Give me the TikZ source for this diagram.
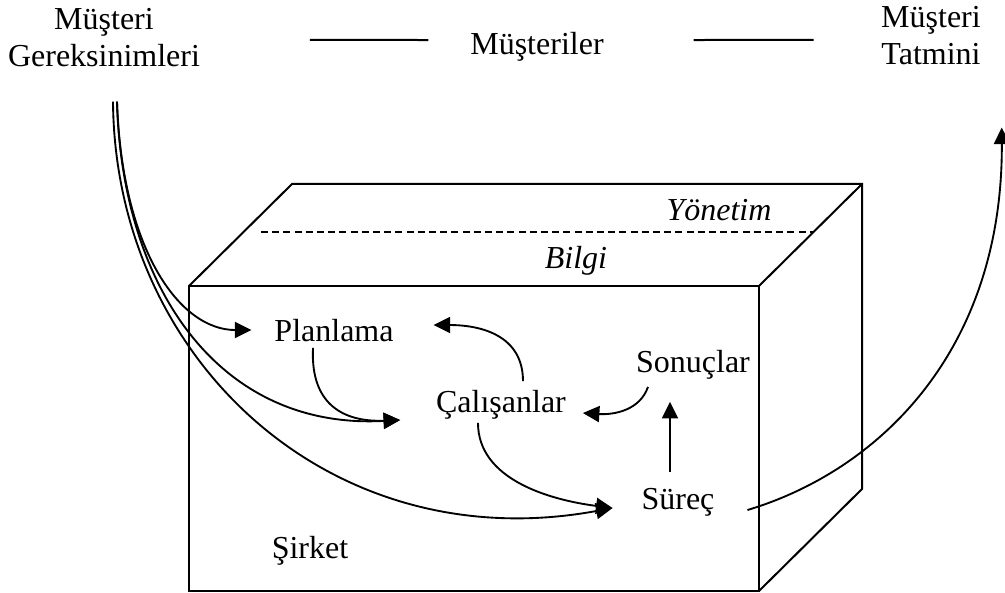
\documentclass[tikz,border=0pt]{standalone}
\usepackage{fontspec}
\setmainfont{Liberation Serif}
\usetikzlibrary{arrows.meta,calc}

\begin{document}
\begin{tikzpicture}[
    x=0.375pt, y=-0.375pt,
    lbl/.style={font=\fontsize{12}{14}\selectfont, inner sep=0pt, outer sep=0pt,
                text height=8.2pt, text depth=2.6pt, anchor=base},
    titolo/.style={font=\fontsize{12}{13.9}\selectfont, inner sep=0pt, outer sep=0pt,
                align=center, anchor=north},
    scatola/.style={line width=0.75pt},
    freccia/.style={line width=0.7pt, -{Triangle[length=6.2pt,width=6pt]}}
  ]
  \useasboundingbox (0,0) rectangle (1005,593);

  % Scatola
  \draw[scatola] (189,286) rectangle (759,591);
  \draw[scatola] (189,286) -- (292,184) -- (862,184) -- (862,489) -- (759,591);
  \draw[scatola] (759,286) -- (862,184);
  \draw[dash pattern=on 2.6pt off 1.6pt, line width=0.6pt] (261,232) -- (813,232);

  % Etichette
  \node[titolo] (mg) at (104,8) {Müşteri\\Gereksinimleri};
  \node[lbl] (mus) at (537,55) {Müşteriler};
  \node[titolo] (mt) at (931,6) {Müşteri\\Tatmini};
  \node[lbl, font=\fontsize{12}{14}\selectfont\itshape] (yon) at (719,221) {Yönetim};
  \node[lbl, font=\fontsize{12}{14}\selectfont\itshape] (bilgi) at (576,269) {Bilgi};
  \node[lbl] (plan) at (334,342) {Planlama};
  \node[lbl] (cal) at (501,413) {Çalışanlar};
  \node[lbl] (sonuc) at (693,373) {Sonuçlar};
  \node[lbl] (sure) at (678,510) {Süreç};
  \node[lbl] (sirket) at (310,559) {Şirket};

  % Linee in alto
  \draw[line width=0.75pt] ($(mg.east)+(110,2.5)$) -- ($(mus.west)+(-42,-7.5)$);
  \draw[line width=0.75pt] ($(mus.east)+(90,-7.5)$) -- ($(mt.west)+(-67.5,4.5)$);

  % Frecce
  \draw[freccia] ($(mg.south)+(13,35)$) .. controls +(5,148) and +(-72,0) .. ($(plan.west)+(-23,-4.5)$);
  \draw[freccia] ($(mg.south)+(13,35)$) .. controls +(5,188) and +(-180,10) .. ($(cal.west)+(-36,14.5)$);
  \draw[freccia] ($(mg.south)+(9,35)$) .. controls +(2,258) and +(-282,52) .. ($(sure.west)+(-29,5.5)$);
  \draw[freccia] ($(plan.south)+(-21,-1)$) .. controls +(-3,62) and +(-50,2) .. ($(cal.west)+(-36,14.5)$);
  \draw[freccia] ($(cal.north)+(22,-10)$) .. controls +(0,-46) and +(47,0) .. ($(plan.east)+(40,-9.5)$);
  \draw[freccia] ($(cal.south)+(-23,3)$) .. controls +(0,57) and +(-62,-8) .. ($(sure.west)+(-29,5.5)$);
  \draw[freccia] ($(sonuc.south)+(-45,7)$) .. controls +(-8,23) and +(32,2) .. ($(cal.east)+(17,7.5)$);
  \draw[freccia] ($(sure.north)+(-8,-16)$) -- ($(sonuc.south)+(-23,22)$);
  \draw[freccia] ($(sure.east)+(33,7.5)$) .. controls +(133,-40) and +(1,222) .. ($(mt.south east)+(21,63)$);
\end{tikzpicture}
\end{document}
